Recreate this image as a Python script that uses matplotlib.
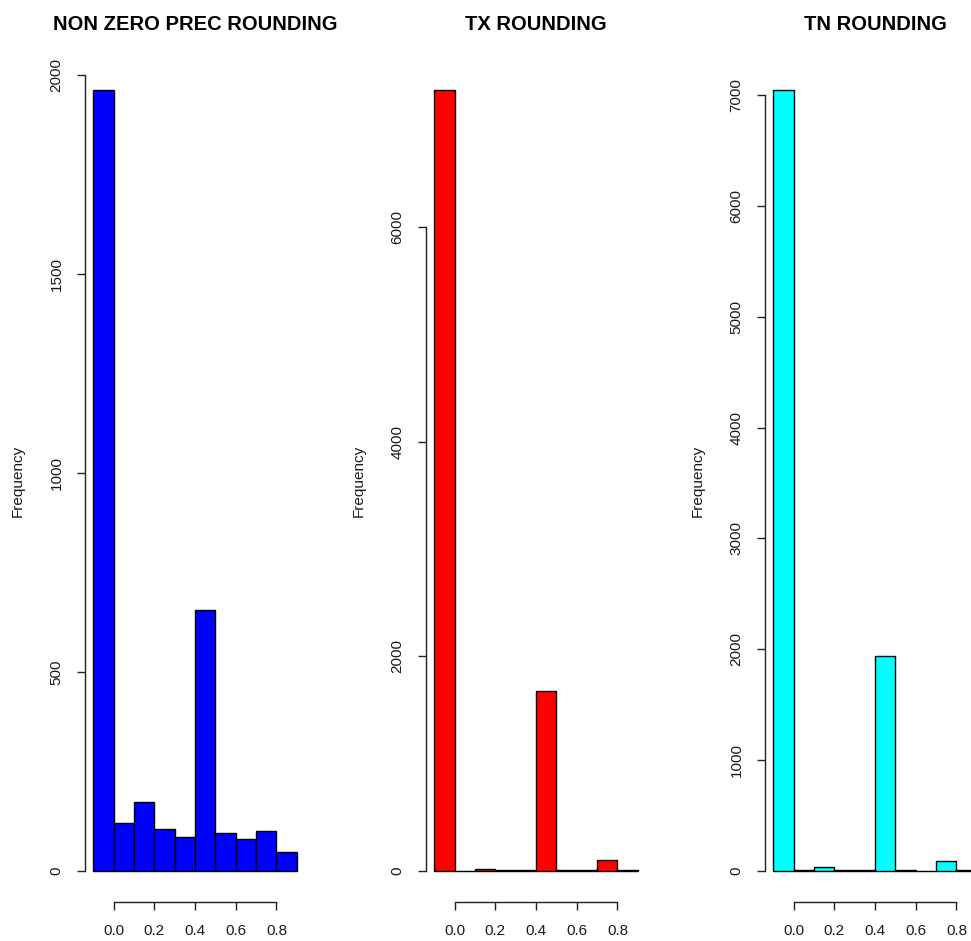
import matplotlib
matplotlib.use("Agg")
import matplotlib.pyplot as plt
import numpy as np

plt.rcParams['font.family'] = ['Liberation Sans', 'DejaVu Sans']

# Histogram bins (width 0.1)
bin_edges = [-0.1, 0.0, 0.1, 0.2, 0.3, 0.4, 0.5, 0.6, 0.7, 0.8, 0.9]

titles = ["NON ZERO PREC ROUNDING", "TX ROUNDING", "TN ROUNDING"]
colors = ["#0000FF", "#FF0000", "#00FFFF"]

prec_counts = [1962, 121, 172, 106, 85, 656, 95, 80, 101, 47]
tx_counts = [7278, 2, 15, 3, 3, 1679, 3, 3, 100, 3]
tn_counts = [7045, 3, 30, 4, 4, 1935, 4, 0, 88, 4]

y_ticks = [
    [0, 500, 1000, 1500, 2000],
    [0, 2000, 4000, 6000],
    [0, 1000, 2000, 3000, 4000, 5000, 6000, 7000],
]
x_ticks = [0.0, 0.2, 0.4, 0.6, 0.8]
x_ticklabels = ["0.0", "0.2", "0.4", "0.6", "0.8"]

all_counts = [prec_counts, tx_counts, tn_counts]

W, H = 971, 941
fig = plt.figure(figsize=(W / 100, H / 100), dpi=100)

lefts = [85, 426, 765]
ax_w, top_px, bot_px = 220, 59, 902

text_col = "#1a1a1a"
for i, counts in enumerate(all_counts):
    ax = fig.add_axes([lefts[i] / W, (H - bot_px) / H, ax_w / W, (bot_px - top_px) / H])
    edges = np.array(bin_edges)
    ax.bar(edges[:-1], counts, width=np.diff(edges), align='edge',
           color=colors[i], edgecolor='black', linewidth=1.0)
    lo, hi = edges[0], edges[-1]
    span = hi - lo
    ax.set_xlim(lo - 0.04 * span, hi + 0.04 * span)
    ymax = max(counts)
    ax.set_ylim(-0.04 * ymax, 1.04 * ymax)

    for s in ['top', 'right']:
        ax.spines[s].set_visible(False)
    ax.spines['left'].set_bounds(y_ticks[i][0], y_ticks[i][-1])
    ax.spines['bottom'].set_bounds(x_ticks[0], x_ticks[-1])
    for s in ['left', 'bottom']:
        ax.spines[s].set_linewidth(1.0)
        ax.spines[s].set_color('#222222')

    ax.set_yticks(y_ticks[i])
    ax.set_yticklabels([str(v) for v in y_ticks[i]], rotation=90, va='center')
    ax.set_xticks(x_ticks)
    ax.set_xticklabels(x_ticklabels)
    ax.tick_params(axis='both', direction='out', length=5.5, width=1.0,
                   color='#222222', labelsize=11, labelcolor=text_col, pad=10)

    ax.set_title(titles[i], fontsize=14.5, fontweight='bold', pad=21, color='black')
    ax.set_ylabel("Frequency", fontsize=11, color=text_col)
    ax.yaxis.label.set_va('center')
    ax.yaxis.set_label_coords(-67 / ax_w, 0.5)

fig.savefig("out.png", dpi=100)
